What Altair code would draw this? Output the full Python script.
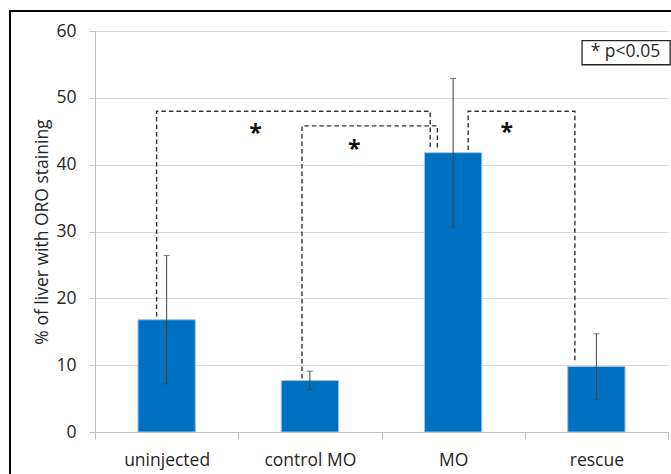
import json

import altair as alt
import pandas as pd

# Percentage of liver area with Oil Red O staining, mean and SD per group
categories = ["uninjected", "control MO", "MO", "rescue"]
mean_pct = [16.8, 7.7, 41.8, 9.8]
sd_pct = [9.6, 1.4, 11.1, 4.9]

# Significance brackets; x in category units (0 = left edge of the first group)
bracket_left = [0.43, 1.445, 2.605]
bracket_right = [2.34, 2.39, 3.35]
bracket_top = [48.0, 45.8, 48.0]
bracket_left_foot = [17.3, 8.0, 42.2]
bracket_right_foot = [42.6, 42.3, 10.3]

# Asterisks above the brackets
star_x = [1.12, 1.81, 2.875]
star_y = [46.2, 43.9, 46.4]

# Key in the top right corner
key_label = "* p<0.05"
key_x = [3.40, 4.015]
key_y = [54.95, 58.55]
key_text_pos = [3.46, 56.8]

FONT = "Open Sans"
TEXT = "#262626"
BLUE = "#0070C0"

bars = pd.DataFrame({
    "idx": list(range(len(categories))),
    "group": categories,
    "mean": mean_pct,
    "sd": sd_pct,
})

path_rows = []
for b in range(len(bracket_left)):
    pts = [
        (bracket_left[b], bracket_left_foot[b]),
        (bracket_left[b], bracket_top[b]),
        (bracket_right[b], bracket_top[b]),
        (bracket_right[b], bracket_right_foot[b]),
    ]
    for k, (px, py) in enumerate(pts):
        path_rows.append({"bracket": b, "step": k, "x": px, "y": py})
brackets = pd.DataFrame(path_rows)

stars = pd.DataFrame({"x": star_x, "y": star_y, "t": ["*"] * len(star_x)})

x_scale = alt.Scale(domain=[0, 4], nice=False, zero=False)
y_scale = alt.Scale(domain=[0, 60], nice=False)

label_expr = (
    "datum.value % 1 == 0 ? '' : "
    + json.dumps(categories).replace('"', "'")
    + "[floor(datum.value)]"
)

x_axis = alt.Axis(
    values=[v / 2 for v in range(9)],
    labelExpr=label_expr,
    title=None,
    grid=False,
    domainColor="#BFBFBF",
    tickColor="#BFBFBF",
    tickSize=7,
    tickOpacity={"condition": {"test": "datum.value % 1 != 0", "value": 0}, "value": 1},
    labelPadding=12,
    labelFont=FONT,
    labelFontSize=17.5,
    labelColor=TEXT,
    labelBaseline="top",
)

y_axis = alt.Axis(
    values=list(range(0, 61, 10)),
    title="% of liver with ORO staining",
    titleFont=FONT,
    titleFontSize=17.5,
    titleFontWeight="normal",
    titleColor=TEXT,
    titleX=-44,
    grid=True,
    gridColor="#D9D9D9",
    domainColor="#BFBFBF",
    tickColor="#BFBFBF",
    tickSize=6,
    labelPadding=13,
    labelFont=FONT,
    labelFontSize=17.5,
    labelColor=TEXT,
)


def xq(field):
    return alt.X(field, scale=x_scale, axis=x_axis)


def yq(field):
    return alt.Y(field, scale=y_scale, axis=y_axis)


base = alt.Chart(bars).transform_calculate(
    center="datum.idx + 0.5",
    x0="datum.idx + 0.3",
    x1="datum.idx + 0.7",
    lo="datum.mean - datum.sd",
    hi="datum.mean + datum.sd",
)

bar_layer = base.mark_bar(color=BLUE, stroke="#9DC3E6", strokeWidth=1).encode(
    x=xq("x0:Q"),
    x2="x1:Q",
    y=yq("mean:Q"),
    y2=alt.datum(0),
)

err_layer = base.mark_errorbar(ticks=True, size=6, thickness=1, color="#404040").encode(
    x=xq("center:Q"),
    y=yq("lo:Q"),
    y2="hi:Q",
)

bracket_layer = alt.Chart(brackets).mark_line(
    color="#333333", strokeWidth=1.4, strokeDash=[4.5, 3]
).encode(
    x=xq("x:Q"),
    y=yq("y:Q"),
    detail="bracket:N",
    order="step:Q",
)

star_layer = alt.Chart(stars).mark_text(
    font=FONT, fontSize=23, fontWeight="bold", color="#111111", dy=11
).encode(
    x=xq("x:Q"),
    y=yq("y:Q"),
    text="t:N",
)

key_df = pd.DataFrame({
    "x0": [key_x[0]], "x1": [key_x[1]],
    "y0": [key_y[0]], "y1": [key_y[1]],
    "tx": [key_text_pos[0]], "ty": [key_text_pos[1]],
    "label": [key_label],
})

key_box = alt.Chart(key_df).mark_rect(
    fill="white", stroke="#262626", strokeWidth=1.3
).encode(
    x=xq("x0:Q"),
    x2="x1:Q",
    y=yq("y0:Q"),
    y2="y1:Q",
)

key_text = alt.Chart(key_df).mark_text(
    font=FONT, fontSize=17.5, color=TEXT, align="left", baseline="middle"
).encode(
    x=xq("tx:Q"),
    y=yq("ty:Q"),
    text="label:N",
)

# Outer frame around the whole figure
frame = alt.Chart(pd.DataFrame({"f": [0]})).mark_rect(
    fill="transparent", stroke="black", strokeWidth=2
).encode(
    x=alt.value(-85), x2=alt.value(720),
    y=alt.value(-20), y2=alt.value(520),
)

chart = alt.layer(
    bar_layer, err_layer, bracket_layer, star_layer, key_box, key_text, frame
).properties(
    width=573,
    height=401,
    background="white",
    autosize=alt.AutoSizeParams(type="none"),
    padding={"left": 95, "top": 31, "right": 3, "bottom": 42},
).configure_view(stroke=None)

chart.save("out.html", embed_options={"renderer": "svg", "actions": False})
